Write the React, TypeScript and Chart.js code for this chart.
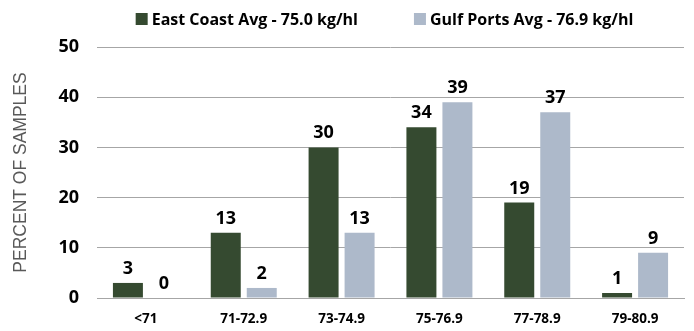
import React, { useEffect, useRef } from "react";
import { Chart, registerables } from "chart.js";

Chart.register(...registerables);

const categories = ["<71", "71-72.9", "73-74.9", "75-76.9", "77-78.9", "79-80.9"];
const eastCoast = [3, 13, 30, 34, 19, 1];
const gulfPorts = [0, 2, 13, 39, 37, 9];
const seriesLabels = ["East Coast Avg - 75.0 kg/hl", "Gulf Ports Avg - 76.9 kg/hl"];
const yTicks = [0, 10, 20, 30, 40, 50];

const GREEN = "#354A30";
const GRAY = "#ADB9CA";
const FONT = "'Open Sans', sans-serif";

const valueLabels = {
  id: "valueLabels",
  afterDatasetsDraw(chart: any) {
    const ctx = chart.ctx;
    ctx.save();
    ctx.font = `bold 18px ${FONT}`;
    ctx.fillStyle = "#000000";
    ctx.textAlign = "center";
    ctx.textBaseline = "alphabetic";
    chart.data.datasets.forEach((ds: any, i: number) => {
      const meta = chart.getDatasetMeta(i);
      meta.data.forEach((bar: any, j: number) => {
        ctx.fillText(String(ds.data[j]), bar.x, bar.y - 9);
      });
    });
    ctx.restore();
  },
};

const customLegend = {
  id: "customLegend",
  afterDraw(chart: any) {
    const ctx = chart.ctx;
    ctx.save();
    ctx.font = `bold 16px ${FONT}`;
    const box = 12;
    const gap = 4;
    const itemGap = 56;
    const items = chart.data.datasets.map((ds: any) => ({
      label: ds.label,
      color: ds.backgroundColor,
      w: box + gap + ctx.measureText(ds.label).width,
    }));
    const total = items.reduce((s: number, it: any) => s + it.w, 0) + itemGap * (items.length - 1);
    const center = (chart.chartArea.left + chart.chartArea.right) / 2 - 6;
    let x = center - total / 2;
    const cy = 19;
    items.forEach((it: any) => {
      ctx.fillStyle = it.color;
      ctx.fillRect(x, cy - box / 2, box, box);
      ctx.fillStyle = "#000000";
      ctx.textAlign = "left";
      ctx.textBaseline = "middle";
      ctx.fillText(it.label, x + box + gap, cy + 1);
      x += it.w + itemGap;
    });
    ctx.restore();
  },
};

export default function App() {
  const ref = useRef<HTMLCanvasElement | null>(null);

  useEffect(() => {
    document.body.style.margin = "0";
    if (!ref.current) return;
    const chart = new Chart(ref.current, {
      type: "bar",
      data: {
        labels: categories,
        datasets: [
          {
            label: seriesLabels[0],
            data: eastCoast,
            backgroundColor: GREEN,
            categoryPercentage: 0.736,
            barPercentage: 0.833,
          },
          {
            label: seriesLabels[1],
            data: gulfPorts,
            backgroundColor: GRAY,
            categoryPercentage: 0.736,
            barPercentage: 0.833,
          },
        ],
      },
      options: {
        animation: false,
        responsive: false,
        maintainAspectRatio: false,
        layout: { padding: { top: 47, right: 10, bottom: 0, left: 0 } },
        plugins: {
          legend: { display: false },
          tooltip: { enabled: false },
        },
        scales: {
          x: {
            grid: { display: false, drawTicks: false },
            border: { display: true, color: "#A6A6A6", width: 1 },
            ticks: {
              color: "#000000",
              font: { family: FONT, size: 13.5, weight: "bold" },
              padding: 13,
              maxRotation: 0,
              autoSkip: false,
            },
            afterFit(scale: any) {
              scale.height = 33;
            },
          },
          y: {
            min: 0,
            max: 50,
            afterBuildTicks(scale: any) {
              scale.ticks = yTicks.map((v) => ({ value: v }));
            },
            grid: { color: "#A6A6A6", lineWidth: 1, drawTicks: false },
            border: { display: false },
            ticks: {
              color: "#000000",
              font: { family: FONT, size: 18, weight: "bold" },
              padding: 18,
            },
            title: {
              display: true,
              text: "PERCENT OF SAMPLES",
              color: "#595959",
              font: { family: "'Liberation Sans', Arial, sans-serif", size: 17.5, weight: "normal" },
              padding: { top: 11, bottom: 0 },
            },
            afterFit(scale: any) {
              scale.width = 97;
            },
          },
        },
      },
      plugins: [valueLabels, customLegend],
    });
    return () => chart.destroy();
  }, []);

  return (
    <div style={{ width: 694, height: 331 }}>
      <canvas ref={ref} width={694} height={331} style={{ display: "block" }} />
    </div>
  );
}
